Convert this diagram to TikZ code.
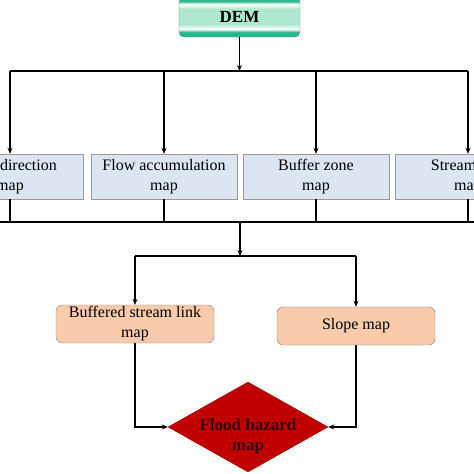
\documentclass[tikz,border=0pt]{standalone}
\usepackage{fontspec}
\setmainfont{Liberation Serif}
\usetikzlibrary{shapes.geometric,arrows.meta}

\definecolor{demgreen}{RGB}{40,182,140}
\definecolor{demlight}{RGB}{175,232,208}
\definecolor{mapblue}{RGB}{220,230,242}
\definecolor{mappeach}{RGB}{248,203,173}
\definecolor{hazardred}{RGB}{192,0,0}
\definecolor{hazardtxt}{RGB}{50,0,0}

\pgfdeclareverticalshading{demshade}{100bp}{color(0bp)=(demgreen); color(25bp)=(demgreen); color(31bp)=(demgreen); color(35bp)=(white); color(41bp)=(demlight); color(60bp)=(demlight); color(66bp)=(white); color(70bp)=(demgreen); color(75bp)=(demgreen!80!white); color(100bp)=(demgreen!80!white)}

\begin{document}
\begin{tikzpicture}[x=1pt, y=-1pt, font=\fontsize{16}{20}\selectfont]
  \tikzstyle{dem}=[draw=gray, rounded corners=5pt, shade, shading=demshade, minimum width=121pt, minimum height=40pt, font=\fontsize{17}{20}\selectfont\bfseries]
  \tikzstyle{layer}=[draw=gray!80, fill=mapblue, minimum width=146pt, minimum height=45pt, align=center, inner sep=0pt]
  \tikzstyle{derived}=[draw=gray!70!brown, fill=mappeach, rounded corners=6pt, minimum width=158pt, minimum height=38pt, align=center, inner sep=0pt]
  \tikzstyle{hazard}=[diamond, draw=hazardred!80!black, fill=hazardred, minimum width=160pt, minimum height=90pt, inner sep=0pt]
  \tikzstyle{hazardlbl}=[text=hazardtxt, align=center, font=\fontsize{17}{20}\selectfont\bfseries]
  \tikzstyle{line}=[line width=1.5pt]
  \tikzstyle{arrow}=[line width=1.5pt, -{Stealth[length=6pt, width=5pt]}]

  \useasboundingbox (0,0) rectangle (474,474);
  \clip (0,0) rectangle (474,474);

  \node[dem]       (dem)      at (239.5, 17)    {DEM};
  \node[layer]     (fdir)     at (10,    176.5) {Flow direction\\map};
  \node[layer]     (facc)     at (164,   176.5) {Flow accumulation\\map};
  \node[layer]     (buffer)   at (316,   176.5) {Buffer zone\\map};
  \node[layer]     (slink)    at (468,   176.5) {Stream link\\map};
  \node[derived]   (bsl)      at (135,   324)   {Buffered stream link\\map};
  \node[derived]   (slope)    at (356,   326)   {Slope map};
  \node[hazard]    (flood)    at (248,   427)   {};
  \node[hazardlbl] (floodlbl) at (248,   436)   {Flood hazard\\map};

  \coordinate (split)  at (239, 71);
  \coordinate (merge)  at (240, 222);
  \coordinate (mergeL) at (0,   222);
  \coordinate (mergeR) at (474, 222);
  \coordinate (fork)   at (240, 256);

  % DEM to the four layers
  \draw[arrow] (dem.south) -- (dem.south |- split);
  \draw[line]  (fdir |- split) -- (slink |- split);
  \draw[arrow] (fdir |- split) -- (fdir.north);
  \draw[arrow] (facc |- split) -- (facc.north);
  \draw[arrow] (buffer |- split) -- (buffer.north);
  \draw[arrow] (slink |- split) -- (slink.north);

  % layers merged
  \draw[line]  (fdir.south) -- (fdir |- merge);
  \draw[line]  (facc.south) -- (facc |- merge);
  \draw[line]  (buffer.south) -- (buffer |- merge);
  \draw[line]  (slink.south) -- (slink |- merge);
  \draw[line]  (mergeL) -- (mergeR);
  \draw[arrow] (merge) -- (fork);

  % derived maps
  \draw[line]  (bsl |- fork) -- (slope |- fork);
  \draw[arrow] (bsl |- fork) -- (bsl.north);
  \draw[arrow] (slope |- fork) -- (slope.north);

  % hazard
  \draw[arrow] (bsl.south) |- (flood.west);
  \draw[arrow] (slope.south) |- (flood.east);
\end{tikzpicture}
\end{document}
